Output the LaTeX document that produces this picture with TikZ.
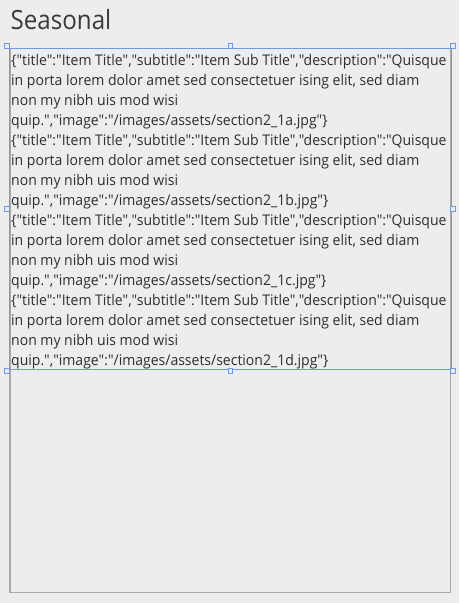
\documentclass[tikz,border=0pt]{standalone}
\usepackage{fontspec}
\setmainfont{Open Sans}
\newfontfamily\bodyfont[FakeStretch=0.953]{Open Sans}
\newfontfamily\titlefont[FakeStretch=0.91]{Open Sans}
\definecolor{bg}{HTML}{EDEDED}
\definecolor{txt}{HTML}{2E2E2E}
\definecolor{ttl}{HTML}{3A3A3A}
\definecolor{selblue}{HTML}{6F98E6}
\definecolor{framegray}{HTML}{A9A9A9}
\tikzset{
  line/.style={anchor=base west, inner sep=0pt, text=txt, font=\bodyfont\fontsize{14.7}{20}\selectfont},
  handle/.style={draw=selblue, fill=bg, line width=0.9pt, minimum size=4.6pt, inner sep=0pt},
}
\begin{document}
\begin{tikzpicture}[x=1pt,y=-1pt]
\fill[bg] (0,0) rectangle (459,603);
\useasboundingbox (0,0) rectangle (459,603);
\node[anchor=base west, inner sep=0pt, text=ttl, font=\titlefont\fontsize{26.5}{30}\selectfont] (title) at (10.5,29) {Seasonal};
% outer list frame
\draw[framegray, line width=1.6pt] (10,48.5) rectangle (450.5,592.5);
% text lines
\foreach \s [count=\k from 0] in {a,b,c,d}{
  \pgfmathsetmacro\yy{65+80*\k}
  \node[line] (l\k a) at (11,\yy) {\{"title":"Item Title","subtitle":"Item Sub Title","description":"Quisque};
  \node[line] (l\k b) at (11,\yy+20) {in porta lorem dolor amet sed consectetuer ising elit, sed diam};
  \node[line] (l\k c) at (11,\yy+40) {non my nibh uis mod wisi};
  \node[line] (l\k d) at (11,\yy+60) {quip.","image":"/images/assets/section2\_1\s.jpg"\}};
}
% selection rectangle
\draw[selblue, line width=1.2pt] (9.5,48.5) rectangle (451.5,369.5);
\foreach \hx in {7,230.5,453}{
  \foreach \hy in {46,209,371}{
    \ifdim\hx pt=230.5pt \ifdim\hy pt=209pt \else \node[handle] at (\hx,\hy) {};\fi \else \node[handle] at (\hx,\hy) {};\fi
  }
}
\end{tikzpicture}
\end{document}
